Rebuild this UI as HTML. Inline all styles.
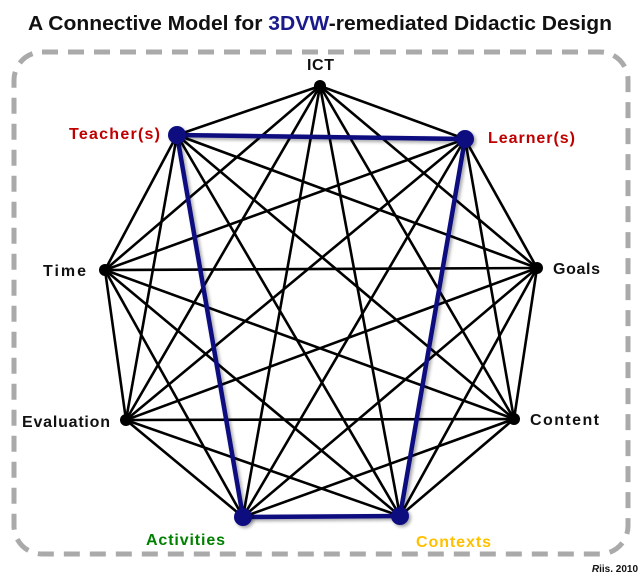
<!DOCTYPE html>
<html><head><meta charset="utf-8"><style>
body{margin:0;background:#fff;width:643px;height:579px;overflow:hidden}
svg{display:block}
text{font-family:"Liberation Sans",sans-serif;font-weight:bold}
</style></head><body>
<svg width="643" height="579" viewBox="0 0 643 579">
<defs><filter id="sh" x="-10%" y="-10%" width="120%" height="120%"><feDropShadow dx="2" dy="2" stdDeviation="1.5" flood-color="#000" flood-opacity="0.35"/></filter></defs>
<text x="28" y="30" textLength="584" lengthAdjust="spacingAndGlyphs" font-size="20" fill="#111">A Connective Model for <tspan fill="#1a1a8c">3DVW</tspan>-remediated Didactic Design</text>
<rect x="14" y="52" width="614" height="502" rx="28" fill="none" stroke="#aaa" stroke-width="5" stroke-dasharray="16 10"/>
<g stroke="#000" stroke-width="2.6">
<line x1="320" y1="86" x2="177" y2="135"/><line x1="320" y1="86" x2="465" y2="139"/><line x1="320" y1="86" x2="105" y2="270"/><line x1="320" y1="86" x2="537" y2="268"/><line x1="320" y1="86" x2="126" y2="420"/><line x1="320" y1="86" x2="514" y2="419"/><line x1="320" y1="86" x2="243" y2="517"/><line x1="320" y1="86" x2="400" y2="516"/>
<line x1="177" y1="135" x2="105" y2="270"/><line x1="177" y1="135" x2="537" y2="268"/><line x1="177" y1="135" x2="126" y2="420"/><line x1="177" y1="135" x2="514" y2="419"/><line x1="177" y1="135" x2="400" y2="516"/>
<line x1="465" y1="139" x2="105" y2="270"/><line x1="465" y1="139" x2="537" y2="268"/><line x1="465" y1="139" x2="126" y2="420"/><line x1="465" y1="139" x2="514" y2="419"/><line x1="465" y1="139" x2="243" y2="517"/>
<line x1="105" y1="270" x2="537" y2="268"/><line x1="105" y1="270" x2="126" y2="420"/><line x1="105" y1="270" x2="514" y2="419"/><line x1="105" y1="270" x2="243" y2="517"/><line x1="105" y1="270" x2="400" y2="516"/>
<line x1="537" y1="268" x2="126" y2="420"/><line x1="537" y1="268" x2="514" y2="419"/><line x1="537" y1="268" x2="243" y2="517"/><line x1="537" y1="268" x2="400" y2="516"/>
<line x1="126" y1="420" x2="514" y2="419"/><line x1="126" y1="420" x2="243" y2="517"/><line x1="126" y1="420" x2="400" y2="516"/>
<line x1="514" y1="419" x2="243" y2="517"/><line x1="514" y1="419" x2="400" y2="516"/>
</g>
<g fill="#000">
<circle cx="320" cy="86" r="6"/><circle cx="105" cy="270" r="6"/><circle cx="537" cy="268" r="6"/><circle cx="126" cy="420" r="6"/><circle cx="514" cy="419" r="6"/>
</g>
<g stroke="#0a0a80" stroke-width="4.5" fill="none" filter="url(#sh)">
<polygon points="177,135 465,139 400,516 243,517"/>
</g>
<g fill="#0a0a80" filter="url(#sh)">
<circle cx="177" cy="135" r="9"/><circle cx="465" cy="139" r="9"/><circle cx="400" cy="516" r="9"/><circle cx="243" cy="517" r="9"/>
</g>
<g font-size="16" lengthAdjust="spacingAndGlyphs">
<text x="307" y="70" textLength="27" fill="#111">ICT</text>
<text x="69" y="139" textLength="91" fill="#c00000">Teacher(s)</text>
<text x="488" y="143" textLength="87" fill="#c00000">Learner(s)</text>
<text x="43" y="276" textLength="43" fill="#111">Time</text>
<text x="553" y="274" textLength="47" fill="#111">Goals</text>
<text x="22" y="427" textLength="88" fill="#111">Evaluation</text>
<text x="530" y="425" textLength="69" fill="#111">Content</text>
<text x="146" y="545" textLength="79" fill="#008000">Activities</text>
<text x="416" y="547" textLength="75" fill="#ffc000">Contexts</text>
</g>
<text x="638" y="572" text-anchor="end" font-size="10" font-weight="normal" fill="#111"><tspan font-style="italic" font-weight="bold">R</tspan>iis. 2010</text>
</svg>
</body></html>
